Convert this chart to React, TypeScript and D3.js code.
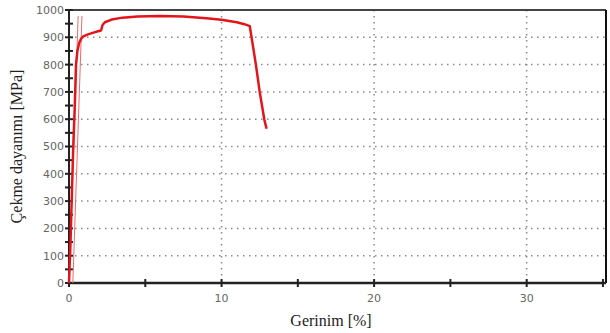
import React, { useEffect, useRef } from 'react';
import * as d3 from 'd3';

// strain [%] vs tensile strength [MPa]
const strain = [0, 0.1, 0.2, 0.28, 0.38, 0.46, 0.55, 0.67, 0.8, 0.94, 1.2, 1.6, 1.9, 2.1, 2.2, 2.35, 2.8, 3.5, 4.5, 6, 7.5, 9, 10, 11, 11.5, 11.85, 12.25, 12.5, 12.8, 12.95];
const stress = [0, 150, 350, 500, 650, 800, 850, 880, 895, 903, 910, 917, 922, 925, 945, 955, 965, 972, 976, 978, 976, 970, 964, 955, 948, 941, 800, 700, 600, 565];

// thin elastic / offset lines
const elasticLine = [[0, 0], [0.6, 978]];
const offsetLine = [[0.25, 0], [0.85, 978]];

const xTicks = [0, 10, 20, 30];
const xMinorTicks = [0, 5, 10, 15, 20, 25, 30, 35];
const yTicks = [0, 100, 200, 300, 400, 500, 600, 700, 800, 900, 1000];
const yMinorTicks = d3.range(0, 1001, 50);

const width = 610;
const height = 333;

export default function App() {
  const svgRef = useRef<SVGSVGElement>(null);

  useEffect(() => {
    const svgElement = svgRef.current;
    if (!svgElement) return;
    const svg = d3.select(svgElement);
    svg.selectAll('*').remove();

    const margin = { top: 10, right: 4, bottom: 50, left: 69 };
    const innerWidth = width - margin.left - margin.right;
    const innerHeight = height - margin.top - margin.bottom;

    const x = d3.scaleLinear().domain([0, 35.2]).range([0, innerWidth]);
    const y = d3.scaleLinear().domain([0, 1000]).range([innerHeight, 0]);

    const g = svg.append('g').attr('transform', `translate(${margin.left}, ${margin.top})`);

    // grid
    g.selectAll('.grid-y')
      .data(yTicks.filter(d => d > 0 && d < 1000))
      .enter()
      .append('line')
      .attr('x1', 0)
      .attr('x2', innerWidth)
      .attr('y1', d => y(d))
      .attr('y2', d => y(d))
      .style('stroke', '#8a8a8a')
      .style('stroke-width', 1.5)
      .style('stroke-dasharray', '1.5,4.5');

    g.selectAll('.grid-x')
      .data(xTicks.filter(d => d > 0))
      .enter()
      .append('line')
      .attr('x1', d => x(d))
      .attr('x2', d => x(d))
      .attr('y1', 0)
      .attr('y2', innerHeight)
      .style('stroke', '#8a8a8a')
      .style('stroke-width', 1.5)
      .style('stroke-dasharray', '1.5,4.5');

    // frame
    g.append('line')
      .attr('x1', 0).attr('x2', innerWidth).attr('y1', 0).attr('y2', 0)
      .style('stroke', '#444').style('stroke-width', 2);
    g.append('line')
      .attr('x1', innerWidth).attr('x2', innerWidth).attr('y1', 0).attr('y2', innerHeight)
      .style('stroke', '#111').style('stroke-width', 2);
    g.append('line')
      .attr('x1', 0).attr('x2', 0).attr('y1', 0).attr('y2', innerHeight)
      .style('stroke', '#222').style('stroke-width', 2);
    g.append('line')
      .attr('x1', 0).attr('x2', innerWidth).attr('y1', innerHeight).attr('y2', innerHeight)
      .style('stroke', '#222').style('stroke-width', 2.5);

    // tick marks
    g.selectAll('.ytick')
      .data(yMinorTicks)
      .enter()
      .append('line')
      .attr('x1', -4).attr('x2', 4)
      .attr('y1', d => y(d)).attr('y2', d => y(d))
      .style('stroke', '#222').style('stroke-width', 2);

    g.selectAll('.xtick')
      .data(xMinorTicks)
      .enter()
      .append('line')
      .attr('x1', d => x(d)).attr('x2', d => x(d))
      .attr('y1', innerHeight - 4).attr('y2', innerHeight + 4)
      .style('stroke', '#222').style('stroke-width', 2);

    // tick labels
    g.selectAll('.ylabel')
      .data(yTicks)
      .enter()
      .append('text')
      .attr('x', -5)
      .attr('y', d => y(d))
      .attr('dy', '0.36em')
      .attr('text-anchor', 'end')
      .style('font-family', 'DejaVu Sans, sans-serif')
      .style('font-size', '11px')
      .style('fill', '#666')
      .text(d => d);

    g.selectAll('.xlabel')
      .data(xTicks)
      .enter()
      .append('text')
      .attr('x', d => x(d))
      .attr('y', innerHeight + 19)
      .attr('text-anchor', 'middle')
      .style('font-family', 'DejaVu Sans, sans-serif')
      .style('font-size', '11px')
      .style('fill', '#666')
      .text(d => d);

    // curves
    const line = d3.line<number[]>().x(d => x(d[0])).y(d => y(d[1]));
    [elasticLine, offsetLine].forEach(l => {
      g.append('path')
        .datum(l)
        .attr('fill', 'none')
        .attr('stroke', '#ee6a6a')
        .attr('stroke-width', 1)
        .attr('d', line);
    });

    const curve = strain.map((s, i) => [s, stress[i]]);
    g.append('path')
      .datum(curve)
      .attr('fill', 'none')
      .attr('stroke', '#e3151b')
      .attr('stroke-width', 2.5)
      .attr('stroke-linejoin', 'round')
      .attr('d', line);

    // axis titles
    svg.append('text')
      .attr('transform', `translate(22, ${margin.top + innerHeight / 2}) rotate(-90)`)
      .attr('text-anchor', 'middle')
      .style('font-family', 'Liberation Serif, serif')
      .style('font-size', '16px')
      .style('fill', '#222')
      .text('Çekme dayanımı [MPa]');

    svg.append('text')
      .attr('x', 331)
      .attr('y', 326)
      .attr('text-anchor', 'middle')
      .style('font-family', 'Liberation Serif, serif')
      .style('font-size', '16px')
      .style('fill', '#222')
      .text('Gerinim [%]');
  }, []);

  return (
    <div style={{ position: 'fixed', left: 0, top: 0 }}>
      <svg ref={svgRef} width={width} height={height} style={{ display: 'block', background: '#fff' }} />
    </div>
  );
}
